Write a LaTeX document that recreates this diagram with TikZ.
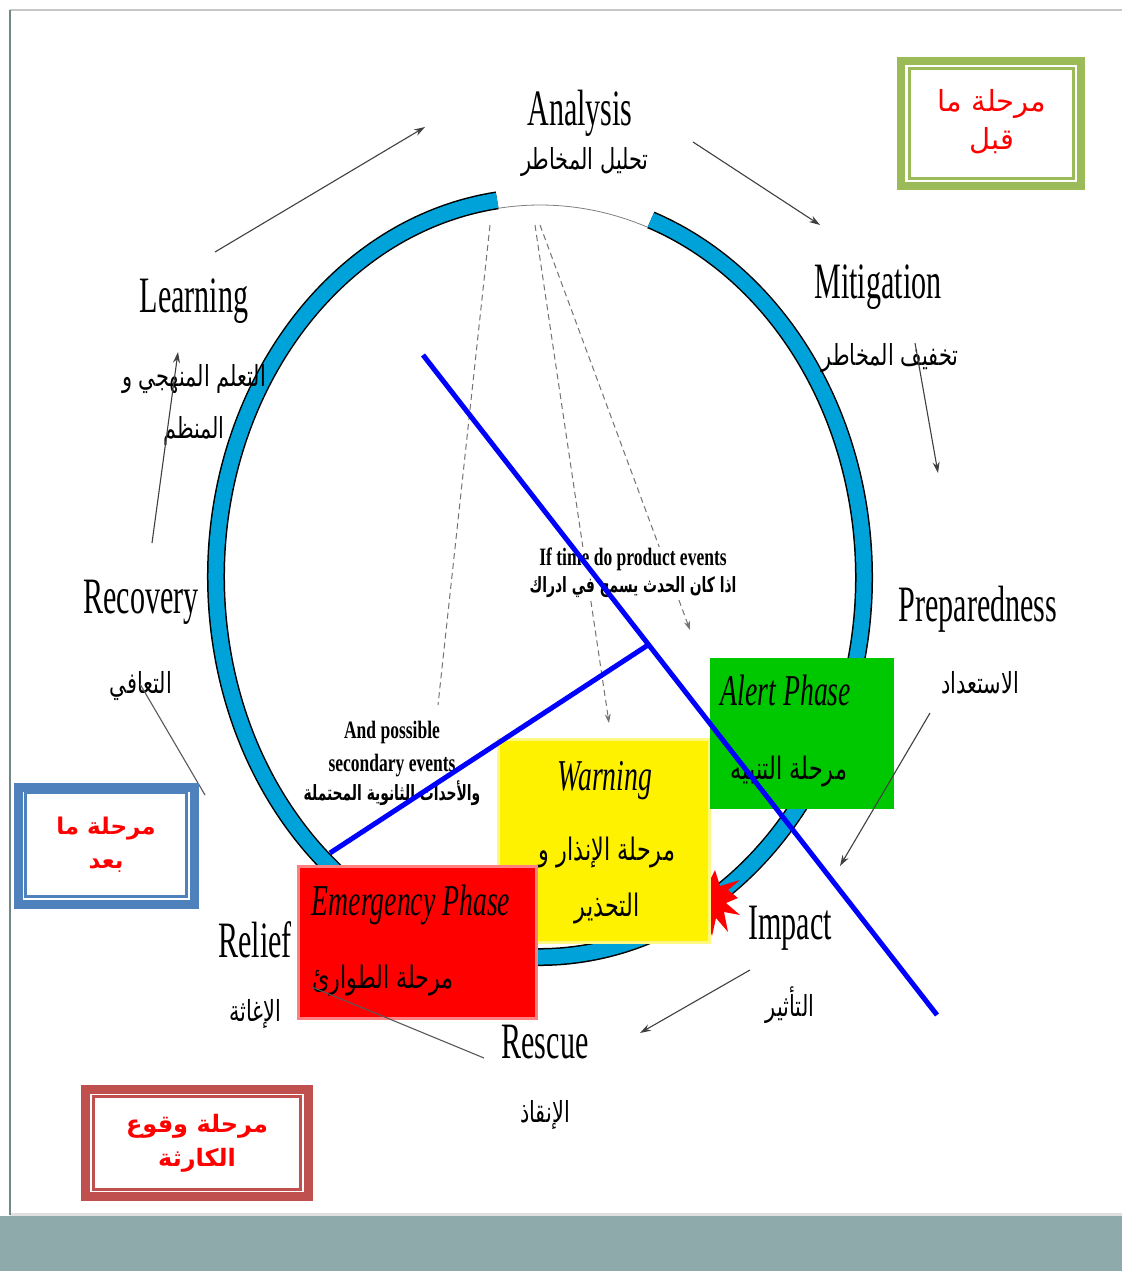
\documentclass[tikz,border=0pt]{standalone}
\usepackage{fontspec}
\usetikzlibrary{arrows.meta,calc}
\TeXXeTstate=1
\newfontfamily\latc[FakeStretch=0.59]{Liberation Serif}
\newfontfamily\latci[FakeStretch=0.63]{Liberation Serif}
\newfontfamily\latb[FakeStretch=0.7,UprightFont={* Bold}]{Liberation Serif}
\newfontfamily\arc[Script=Arabic,FakeStretch=0.72]{DejaVu Sans}
\newfontfamily\arcb[Script=Arabic,FakeStretch=0.66,UprightFont={* Bold}]{DejaVu Sans}
\newfontfamily\arr[Script=Arabic]{DejaVu Sans}
\newcommand{\rtl}[1]{\beginR #1\endR}
\definecolor{ringblue}{HTML}{00A3D9}
\definecolor{frgreen}{HTML}{9BBB59}
\definecolor{frblue}{HTML}{4F81BD}
\definecolor{frred}{HTML}{C0504D}
\definecolor{band}{HTML}{8EAAAA}
\definecolor{alertgreen}{HTML}{00C800}
\tikzset{
  lbl/.style={inner sep=0pt, font={\latc\fontsize{51}{51}\selectfont}},
  albl/.style={inner sep=0pt, align=center, font={\arc\fontsize{29}{52}\selectfont}},
  phasetitle/.style={inner sep=0pt, font={\latci\itshape\fontsize{44}{44}\selectfont}},
  phasear/.style={inner sep=0pt, align=center, font={\arc\fontsize{31}{56}\selectfont}},
  smalltxt/.style={inner sep=1pt, align=center, font={\latb\fontsize{25}{33}\selectfont}},
  framelbl/.style={inner sep=0pt, align=center, text=red, font={\arr\fontsize{24}{34}\selectfont}},
  flow/.style={draw=black!75, line width=1.1pt, -{Stealth[length=11pt,width=7pt]}},
  flowplain/.style={draw=black!65, line width=1.1pt},
  dashflow/.style={draw=black!55, line width=1pt, dashed, dash pattern=on 6pt off 4pt},
  dasharrow/.style={dashflow, -{Stealth[length=9pt,width=6pt]}},
  bluecut/.style={draw=blue, line width=5pt},
}
\begin{document}
\begin{tikzpicture}[x=1pt,y=-1pt]
\useasboundingbox (0,0) rectangle (1122,1271);
\fill[white] (0,0) rectangle (1122,1271);
% page frame
\fill[band] (0,1216) rectangle (1122,1271);
\draw[line width=3pt, color=black!12] (10,1214) -- (1122,1214);
\draw[line width=2pt, color=black!22] (10,10) -- (1122,10);
\draw[line width=2pt, color=band!80!black] (10,10) -- (10,1215);

% ring
\draw[line width=18pt, black] ([shift={(262.4:324 and 380)}]540,577) arc[start angle=262.4, end angle=-70, x radius=324, y radius=380];
\draw[line width=15pt, ringblue] ([shift={(262.4:324 and 380)}]540,577) arc[start angle=262.4, end angle=-70, x radius=324, y radius=380];
\draw[line width=0.8pt, black!50] ([shift={(262.4:316 and 372)}]540,577) arc[start angle=262.4, end angle=290, x radius=316, y radius=372];

% explosion
\fill[red] (740,880) -- (728,890) -- (738,898) -- (726,903) -- (740,915) -- (724,912) -- (728,932) -- (716,918) -- (712,936) -- (700,900) -- (715,870) -- (720,886) -- cycle;

% labels
\node[lbl] (analysis) at (580,113) {Analysis};
\node[albl] (analysisar) at (585,162) {\rtl{تحليل المخاطر}};
\node[lbl] (mitigation) at (878,287) {Mitigation};
\node[albl] (mitigationar) at (890,358) {\rtl{تخفيف المخاطر}};
\node[lbl] (prep) at (978,609) {Preparedness};
\node[albl] (prepar) at (980,683) {\rtl{الاستعداد}};
\node[lbl] (impact) at (790,928) {Impact};
\node[albl] (impactar) at (790,1005) {\rtl{التأثير}};
\node[lbl] (rescue) at (545,1042) {Rescue};
\node[albl] (rescuear) at (545,1115) {\rtl{الإنقاذ}};
\node[lbl] (relief) at (255,940) {Relief};
\node[albl] (reliefar) at (255,1014) {\rtl{الإغاثة}};
\node[lbl] (recovery) at (141,602) {Recovery};
\node[albl] (recoveryar) at (141,686) {\rtl{التعافي}};
\node[lbl] (learning) at (194,301) {Learning};
\node[albl] (learningar) at (194,405) {\rtl{التعلم المنهجي و}\\\rtl{المنظم}};

% dashed lines from analysis
\coordinate (dA) at (490,225);
\coordinate (dB) at (535,225);
\coordinate (dC) at (540,225);
\coordinate (dBend) at (609,723);
\coordinate (dCend) at (690,630);
\coordinate (dAend) at (438,705);
\draw[dashflow] (dA) -- (dAend);
\draw[dasharrow] (dB) -- (dBend);
\draw[dasharrow] (dC) -- (dCend);

% middle texts
\node[smalltxt, fill=white] (iftime) at (633,573) {If time do product events\\[-6pt]\arcb\fontsize{21}{30}\selectfont\rtl{اذا كان الحدث يسمح في ادراك}};
\node[smalltxt] (andpos) at (392,763) {And possible\\secondary events\\[-4pt]\arcb\fontsize{21}{30}\selectfont\rtl{والأحداث الثانوية المحتملة}};

% phase boxes
\node[draw=yellow!50, line width=3pt, fill=yellow, minimum width=211pt, minimum height=203pt, inner sep=0pt] (warnbox) at (604,841) {};
\node[phasetitle] (warnt) at (605,781) {Warning};
\node[phasear] (warnar) at (607,880) {\rtl{مرحلة الإنذار و}\\\rtl{التحذير}};
\node[draw=alertgreen, line width=1pt, fill=alertgreen, minimum width=183pt, minimum height=150pt, inner sep=0pt] (alertbox) at (802,733) {};
\node[phasetitle] (alertt) at (786,690) {Alert Phase};
\node[phasear] (alertar) at (789,771) {\rtl{مرحلة التنبيه}};
\node[draw=red!50, line width=3pt, fill=red, minimum width=238pt, minimum height=152pt, inner sep=0pt] (emerbox) at (417,942) {};
\node[phasetitle] (emert) at (411,905) {Emergency Phase};
\node[phasear] (emerar) at (383,980) {\rtl{مرحلة الطوارئ}};

% flow arrows
\coordinate (a1s) at (215,252); \coordinate (a1e) at (425,127);
\coordinate (a2s) at (693,142); \coordinate (a2e) at (820,225);
\coordinate (a3s) at (915,343); \coordinate (a3e) at (938,473);
\coordinate (a4s) at (930,713); \coordinate (a4e) at (840,866);
\coordinate (a5s) at (750,970); \coordinate (a5e) at (640,1033);
\coordinate (a6s) at (484,1058); \coordinate (a6e) at (312,987);
\coordinate (a7s) at (205,795); \coordinate (a7e) at (140,684);
\coordinate (a8s) at (152,543); \coordinate (a8e) at (178,352);
\draw[flow] (a1s) -- (a1e);
\draw[flow] (a2s) -- (a2e);
\draw[flow] (a3s) -- (a3e);
\draw[flow] (a4s) -- (a4e);
\draw[flow] (a5s) -- (a5e);
\draw[flowplain] (a6s) -- (a6e);
\draw[flowplain] (a7s) -- (a7e);
\draw[flow] (a8s) -- (a8e);

% blue cut lines
\coordinate (b1s) at (423,355);
\coordinate (b1e) at (937,1015);
\coordinate (b2s) at (648,645);
\coordinate (b2e) at (330,853);
\draw[bluecut] (b1s) -- (b1e);
\draw[bluecut] (b2s) -- (b2e);

% framed phase labels
\draw[frgreen, line width=8pt] (901,61) rectangle (1081,186);
\draw[frgreen, line width=3pt] (909,69) rectangle (1073,178);
\node[framelbl, font={\arr\fontsize{29}{38}\selectfont}] (before) at (992,122) {\rtl{مرحلة ما}\\\rtl{قبل}};
\draw[frblue, line width=9pt] (18,787) rectangle (194,904);
\draw[frblue, line width=3pt] (25,792) rectangle (186,896);
\node[framelbl, font={\arr\bfseries\fontsize{23}{34}\selectfont}] (after) at (106,845) {\rtl{مرحلة ما}\\\rtl{بعد}};
\draw[frred, line width=9pt] (85,1089) rectangle (308,1196);
\draw[frred, line width=3pt] (93,1096) rectangle (300,1189);
\node[framelbl, font={\arr\bfseries\fontsize{24}{34}\selectfont}] (during) at (197,1143) {\rtl{مرحلة  وقوع}\\\rtl{الكارثة}};
\end{tikzpicture}
\end{document}
